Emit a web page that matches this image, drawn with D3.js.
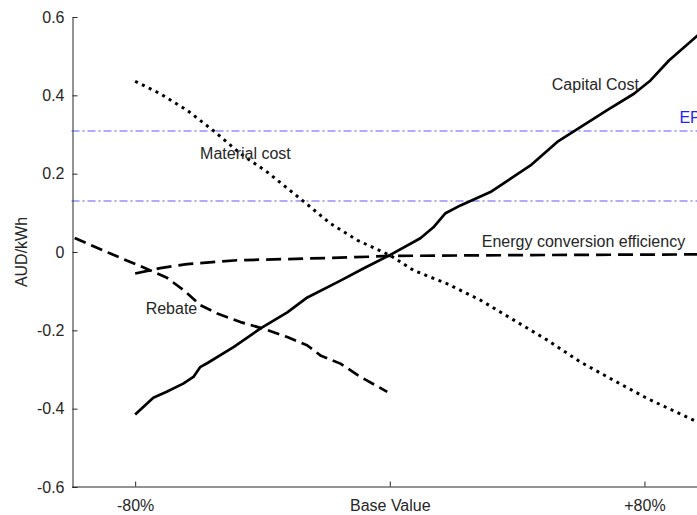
<!DOCTYPE html>
<html>
<head>
<meta charset="utf-8">
<script src="https://cdn.jsdelivr.net/npm/d3@7"></script>
<style>
  html, body { margin: 0; padding: 0; background: #fff; }
  svg { display: block; }
  text { font-family: "Liberation Sans", Arial, Helvetica, sans-serif; }
</style>
</head>
<body>
<svg id="chart" width="697" height="515"></svg>
<script>
// Sensitivity of levelised cost (AUD/kWh) to each input, as % change from base value
const capitalCost = [
  [-80, -0.415], [-74.3, -0.372], [-70.1, -0.357], [-64.9, -0.336], [-61.7, -0.319],
  [-59.6, -0.294], [-57.4, -0.284], [-49.1, -0.243], [-40.6, -0.195], [-32.2, -0.154],
  [-25.9, -0.116], [-15.5, -0.073], [-8.3, -0.042], [0, -0.008], [9.6, 0.035],
  [13.7, 0.063], [17.5, 0.099], [22.2, 0.119], [31.6, 0.153], [44.2, 0.221],
  [52.6, 0.281], [59.9, 0.319], [68.3, 0.362], [76.7, 0.404], [81.9, 0.438],
  [87.7, 0.489], [96.7, 0.553], [100, 0.57]
];
const materialCost = [
  [-80, 0.436], [-72.1, 0.404], [-63.7, 0.362], [-55.3, 0.309], [-46.9, 0.251],
  [-38.5, 0.204], [-28.1, 0.136], [-18.7, 0.073], [-10.2, 0.030], [0, -0.008],
  [7.5, -0.047], [18.0, -0.081], [28.5, -0.123], [39.0, -0.174], [49.5, -0.225],
  [59.9, -0.281], [70.4, -0.328], [80.9, -0.374], [96.6, -0.434], [100, -0.445]
];
const energyEfficiency = [
  [-80, -0.055], [-72.1, -0.041], [-63.7, -0.031], [-54.2, -0.025], [-48, -0.021],
  [-27, -0.017], [-6.1, -0.012], [0, -0.010], [40, -0.008], [100, -0.006]
];
const rebate = [
  [-99, 0.036], [-87.8, -0.004], [-75.2, -0.047], [-70, -0.066], [-64.7, -0.098],
  [-59.5, -0.136], [-54.2, -0.157], [-46.9, -0.179], [-39.6, -0.196], [-32.2, -0.217],
  [-26, -0.238], [-21.8, -0.264], [-15.5, -0.285], [-9.2, -0.319], [-0.8, -0.357]
];
// Reference price levels (blue dash-dot)
const referenceLevels = [0.31, 0.13];
const referenceLabel = "EP";

const xTickValues = [-80, 0, 80];
const xTickLabels = ["-80%", "Base Value", "+80%"];
const yTickValues = [-0.6, -0.4, -0.2, 0, 0.2, 0.4, 0.6];
const yTickLabels = ["-0.6", "-0.4", "-0.2", "0", "0.2", "0.4", "0.6"];
const yAxisTitle = "AUD/kWh";

const seriesNames = ["Capital Cost", "Material cost", "Energy conversion efficiency", "Rebate"];

// ---- drawing ----
const svg = d3.select("#chart");
const axisColor = "#262626";

const x = d3.scaleLinear().domain([-100, 100]).range([71.5, 708.1]);
const y = d3.scaleLinear().domain([-0.6, 0.6]).range([487, 17]);

const series = [
  { name: seriesNames[0], data: capitalCost, dash: null, width: 2.7, lx: 50.9, ly: 0.428 },
  { name: seriesNames[1], data: materialCost, dash: "3,4.6", width: 3, lx: -59.6, ly: 0.253 },
  { name: seriesNames[2], data: energyEfficiency, dash: "15,7", width: 2.7, lx: 28.9, ly: 0.026 },
  { name: seriesNames[3], data: rebate, dash: "12,6", width: 2.7, lx: -76.7, ly: -0.145 }
];

// reference lines
svg.append("g").selectAll("line")
  .data(referenceLevels)
  .join("line")
  .attr("x1", x(-100)).attr("x2", 697)
  .attr("y1", d => Math.round(y(d))).attr("y2", d => Math.round(y(d)))
  .attr("stroke", "#0000ff")
  .attr("stroke-opacity", 0.65)
  .attr("stroke-width", 1.2)
  .attr("stroke-dasharray", "8,3,2,3");

svg.append("text")
  .attr("x", x(91)).attr("y", y(0.343))
  .attr("dy", "0.35em")
  .attr("font-size", 16)
  .attr("fill", "#1f1fff")
  .text(referenceLabel);

// series lines
const line = d3.line().x(d => x(d[0])).y(d => y(d[1]));
svg.append("g").selectAll("path")
  .data(series)
  .join("path")
  .attr("d", d => line(d.data))
  .attr("fill", "none")
  .attr("stroke", "#000")
  .attr("stroke-width", d => d.width)
  .attr("stroke-linejoin", "round")
  .attr("stroke-dasharray", d => d.dash);

// series labels
svg.append("g").selectAll("text")
  .data(series)
  .join("text")
  .attr("x", d => x(d.lx)).attr("y", d => y(d.ly))
  .attr("dy", "0.35em")
  .attr("font-size", 16)
  .attr("fill", axisColor)
  .text(d => d.name);

// y axis
const yAxis = svg.append("g").attr("transform", "translate(72.5,0)")
  .call(d3.axisLeft(y).tickValues(yTickValues)
    .tickFormat((d, i) => yTickLabels[i]).tickSizeInner(-5).tickSizeOuter(0).tickPadding(8));
yAxis.select(".domain").attr("stroke", axisColor);
yAxis.selectAll(".tick line").attr("stroke", axisColor);
yAxis.selectAll("text").attr("font-size", 16).attr("fill", axisColor)
  .attr("font-family", "Liberation Sans, Arial, sans-serif");

// x axis
const xAxis = svg.append("g").attr("transform", "translate(0,486.5)")
  .call(d3.axisBottom(x).tickValues(xTickValues)
    .tickFormat((d, i) => xTickLabels[i]).tickSizeInner(-5).tickSizeOuter(0).tickPadding(13));
xAxis.select(".domain").attr("stroke", axisColor);
xAxis.selectAll(".tick line").attr("stroke", axisColor);
xAxis.selectAll("text").attr("font-size", 16).attr("fill", axisColor)
  .attr("font-family", "Liberation Sans, Arial, sans-serif");

// y axis title
svg.append("text")
  .attr("transform", `translate(27,${(y(0.6) + y(-0.6)) / 2}) rotate(-90)`)
  .attr("text-anchor", "middle")
  .attr("font-size", 16)
  .attr("fill", axisColor)
  .text(yAxisTitle);
</script>
</body>
</html>
